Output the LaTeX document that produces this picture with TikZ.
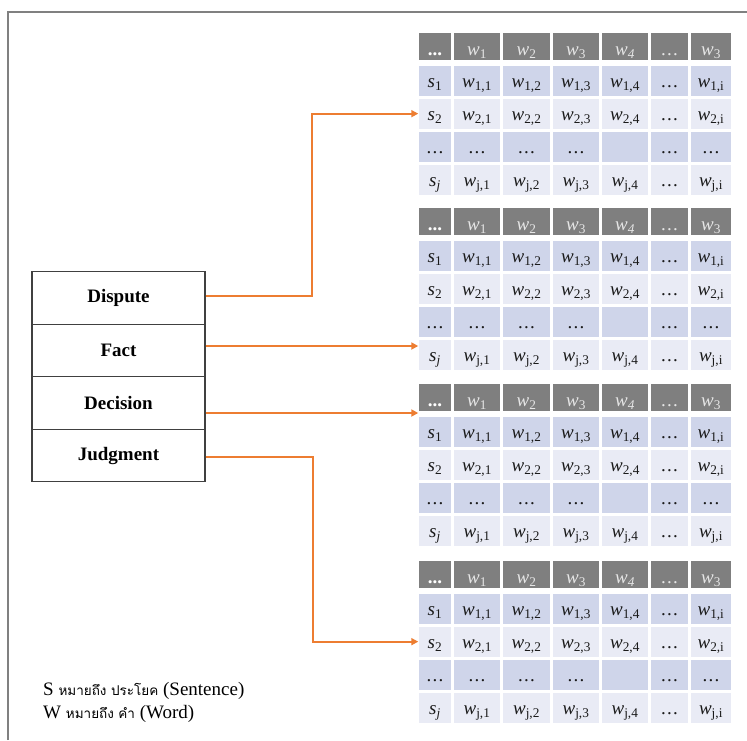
\documentclass[tikz,border=0pt]{standalone}
\usepackage{fontspec}
\setmainfont{Liberation Serif}
\newfontfamily\thaifont[Script=Thai]{Loma}
\usetikzlibrary{arrows.meta,matrix}

\definecolor{headgray}{HTML}{7F7F7F}
\definecolor{rowdark}{HTML}{CFD5EA}
\definecolor{rowlight}{HTML}{E9EBF5}
\definecolor{linkorange}{HTML}{ED7D31}
\definecolor{headtext}{HTML}{E6E6E6}
\definecolor{celltext}{HTML}{1A1A1A}

% cell contents
\newcommand\wv[1]{\textit{w}\textsubscript{#1}}
\newcommand\sv[1]{\textit{s}\textsubscript{#1}}
\newcommand\tdots{.\hspace{1.2pt}.\hspace{1.2pt}.}

% one sentence-by-word table, top left corner at (418,#2)
\newcommand\wordtable[2]{%
  \matrix (#1) [wtable] at (417.5,#2) {
    |[text=white]| \textbf{...} \& \wv{1} \& \wv{2} \& \wv{3} \& \textit{w}\textsubscript{\textit{4}} \& \tdots \& \wv{3} \\[3pt]
    \sv{1} \& \wv{1,1} \& \wv{1,2} \& \wv{1,3} \& \wv{1,4} \& \tdots \& \wv{1,i} \\
    \sv{2} \& \wv{2,1} \& \wv{2,2} \& \wv{2,3} \& \wv{2,4} \& \tdots \& \wv{2,i} \\
    \tdots \& \tdots \& \tdots \& \tdots \& \& \tdots \& \tdots \\
    \textit{s}\textsubscript{\textit{j}} \& \wv{j,1} \& \wv{j,2} \& \wv{j,3} \& \wv{j,4} \& \tdots \& \wv{j,i} \\
  };}

\begin{document}
\begin{tikzpicture}[x=1pt,y=-1pt,
  frame/.style={draw=black!50, line width=1.3pt},
  catbox/.style={draw=black!75, line width=1.2pt, minimum width=173pt,
    minimum height=52.5pt, inner sep=0pt,
    font=\fontsize{19}{22}\selectfont\bfseries},
  link/.style={draw=linkorange, line width=2pt,
    -{Triangle[length=7pt,width=7pt]}},
  wtable/.style={matrix of nodes, nodes in empty cells,
    ampersand replacement=\&,
    inner sep=0pt, outer sep=0pt, row sep=0pt, column sep=0pt,
    anchor=north west,
    nodes={draw=white, line width=1.5pt, inner sep=0pt, outer sep=0pt,
      anchor=center, minimum height=31.6pt, text height=14pt, text depth=0pt,
      font=\fontsize{19}{21}\selectfont, text=celltext},
    column 1/.style={nodes={minimum width=33.5pt}},
    column 2/.style={nodes={minimum width=47.5pt}},
    column 3/.style={nodes={minimum width=48.5pt}},
    column 4/.style={nodes={minimum width=47.5pt}},
    column 5/.style={nodes={minimum width=47.5pt}},
    column 6/.style={nodes={minimum width=38.5pt}},
    column 7/.style={nodes={minimum width=41.5pt}},
    row 1/.style={nodes={fill=headgray, text=headtext, minimum height=28pt,
      text height=19pt}},
    row 2/.style={nodes={fill=rowdark}},
    row 3/.style={nodes={fill=rowlight}},
    row 4/.style={nodes={fill=rowdark}},
    row 5/.style={nodes={fill=rowlight}}}]

\useasboundingbox (0,0) rectangle (747,740);
\fill[white] (0,0) rectangle (747,740);

% page frame
\draw[frame] (8,740) -- (8,12) -- (747,12);

% section boxes
\node[catbox] (dispute)  at (118.5,298)   {Dispute};
\node[catbox] (fact)     at (118.5,350.5) {Fact};
\node[catbox] (decision) at (118.5,403)   {Decision};
\node[catbox] (judgment) at (118.5,455.5) {Judgment};

% tables
\wordtable{t1}{31.5}
\wordtable{t2}{206.5}
\wordtable{t3}{382.5}
\wordtable{t4}{559.5}

% connectors
\draw[link] ([yshift=2pt]dispute.east) -- ++(106,0) |- (t1-3-1.west);
\coordinate (factout) at ([yshift=4.5pt]fact.east);
\draw[link] (factout) -- (factout -| t2-5-1.west);
\coordinate (decout) at ([yshift=-10pt]decision.east);
\draw[link] (decout) -- (decout -| t3-1-1.west);
\draw[link] ([yshift=-1.5pt]judgment.east) -- ++(107,0) |- (t4-3-1.west);

% legend
\node[anchor=base west, inner sep=0pt, font=\fontsize{19}{22}\selectfont] (legs) at (43,695)
  {S {\thaifont\fontsize{13.5}{15}\selectfont หมายถึง ประโยค} (Sentence)};
\node[anchor=base west, inner sep=0pt, font=\fontsize{19}{22}\selectfont] (legw) at (43,718)
  {W {\thaifont\fontsize{13.5}{15}\selectfont หมายถึง คำ} (Word)};
\end{tikzpicture}
\end{document}
